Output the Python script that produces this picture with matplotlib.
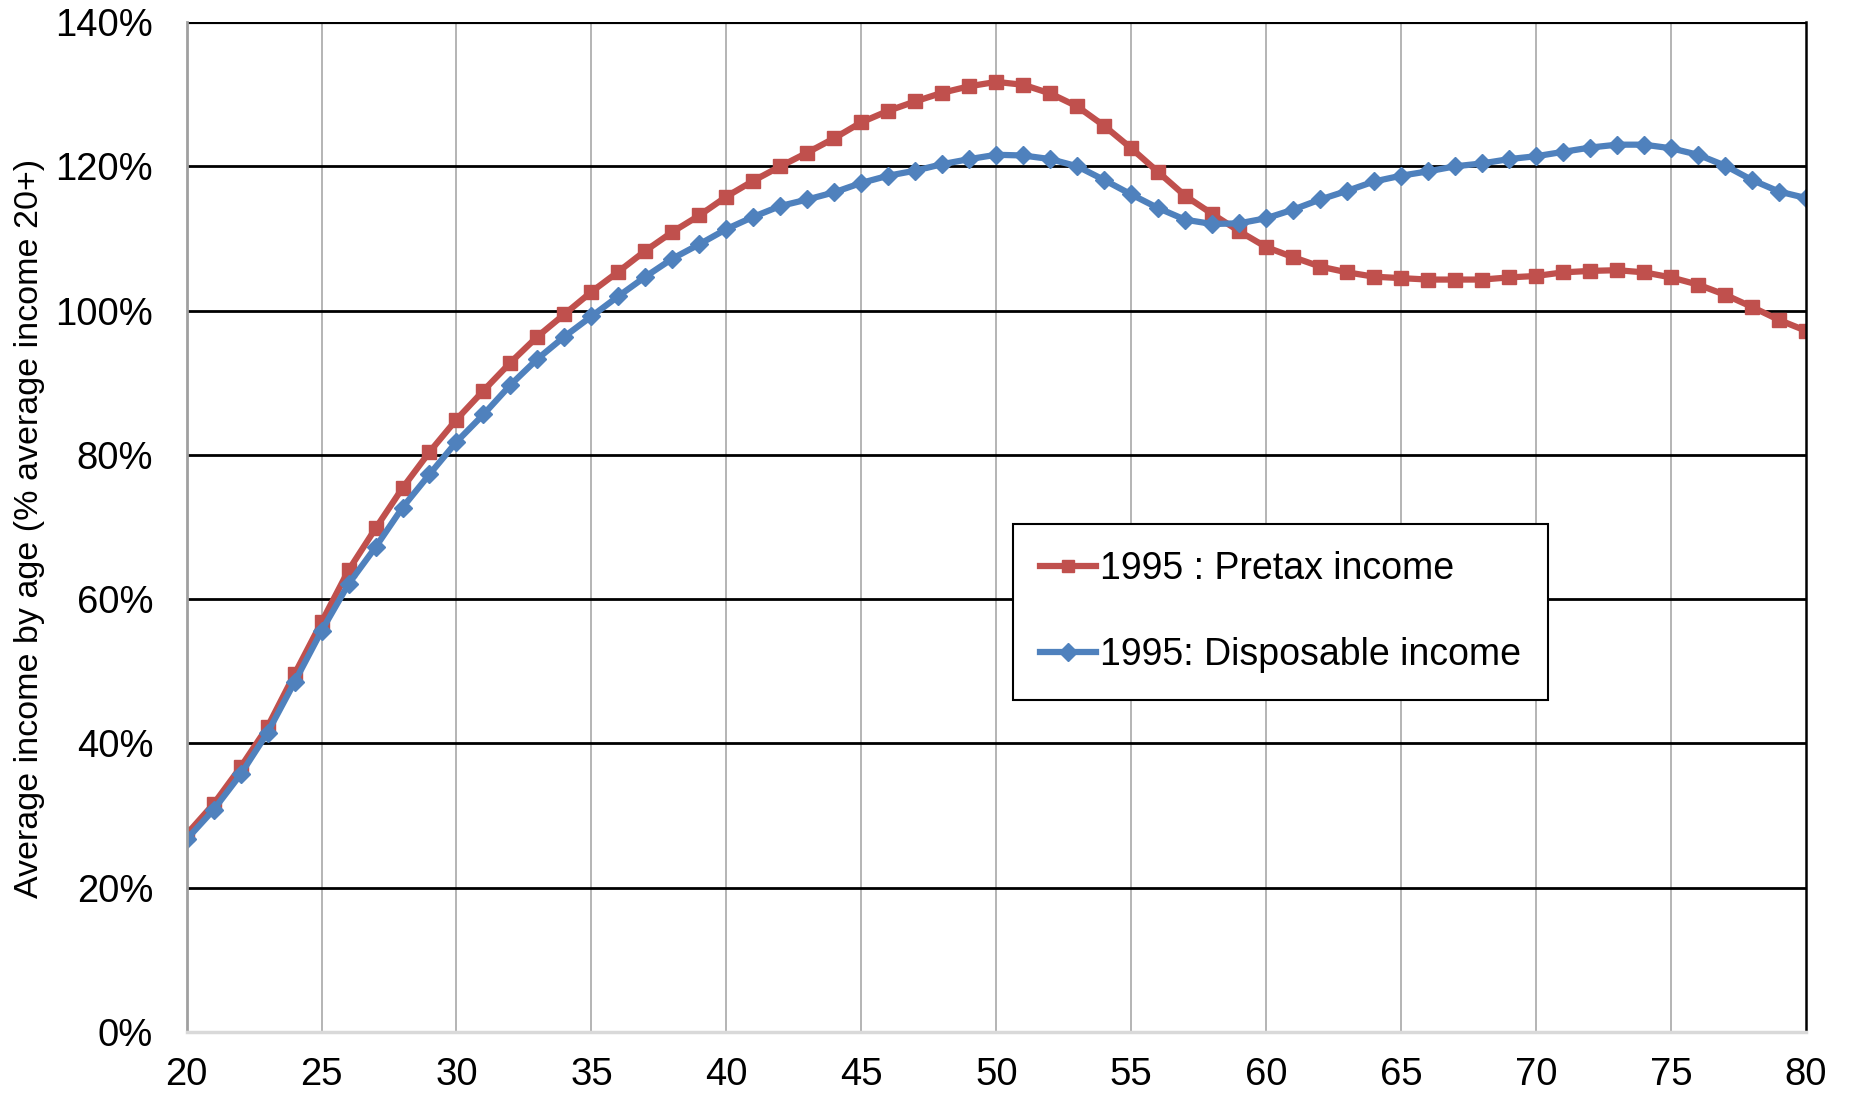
import numpy as np
import matplotlib
matplotlib.use("Agg")
import matplotlib.pyplot as plt
from matplotlib.ticker import FuncFormatter

plt.rcParams['font.family'] = ['Liberation Sans', 'DejaVu Sans']

# age 20..80, income by age as % of average income of adults 20+
ages = list(range(20, 81))
pretax = [27.4, 31.6, 36.7, 42.3, 49.6, 56.8, 64.0, 69.8, 75.4, 80.4,
          84.9, 88.9, 92.8, 96.4, 99.5, 102.6, 105.4, 108.3, 110.9, 113.2,
          115.8, 118.0, 120.0, 121.9, 123.9, 126.1, 127.7, 129.0, 130.2, 131.1,
          131.7, 131.3, 130.1, 128.3, 125.6, 122.5, 119.2, 115.9, 113.4, 111.0,
          108.8, 107.4, 106.1, 105.3, 104.7, 104.5, 104.3, 104.3, 104.3, 104.6,
          104.8, 105.3, 105.5, 105.6, 105.3, 104.6, 103.6, 102.2, 100.5, 98.7,
          97.2]
disposable = [26.7, 30.8, 35.7, 41.5, 48.5, 55.6, 62.1, 67.2, 72.7, 77.3,
              81.8, 85.6, 89.7, 93.3, 96.4, 99.2, 102.0, 104.7, 107.2, 109.2,
              111.3, 113.0, 114.5, 115.4, 116.4, 117.7, 118.7, 119.4, 120.3, 121.0,
              121.6, 121.5, 121.0, 120.0, 118.1, 116.1, 114.2, 112.6, 112.0, 112.1,
              112.8, 114.0, 115.4, 116.6, 117.9, 118.7, 119.3, 120.0, 120.4, 121.0,
              121.4, 122.0, 122.6, 123.0, 123.0, 122.5, 121.6, 120.1, 118.1, 116.5,
              115.6]
names = ["1995 : Pretax income", "1995: Disposable income"]
xticks = list(range(20, 81, 5))
yticks = list(range(0, 141, 20))

fig = plt.figure(figsize=(18.51, 10.96), dpi=100)
ax = fig.add_axes([0.1008, 0.0584, 0.8749, 0.9215])

ax.plot(ages, pretax, color="#C0504D", lw=4.5, marker="s", ms=10.5, label=names[0])
ax.plot(ages, disposable, color="#4F81BD", lw=4.5, marker="D", ms=9.5, label=names[1])

ax.set_xlim(20, 80)
ax.set_ylim(0, 140)
ax.set_xticks(xticks)
ax.set_yticks(yticks)
ax.yaxis.set_major_formatter(FuncFormatter(lambda v, p: "%d%%" % v))
ax.tick_params(length=0, labelsize=27.5)
ax.tick_params(axis="y", pad=24)
ax.tick_params(axis="x", pad=18)

# excel style grid: black horizontal, thin grey vertical
for y in yticks[1:]:
    ax.axhline(y, color="black", lw=2 if y < 140 else 3, zorder=1)
for x in xticks[1:-1]:
    ax.axvline(x, color="#A0A0A0", lw=1.1, zorder=0.5)

ax.spines["top"].set_visible(False)
ax.spines["right"].set_color("black")
ax.spines["right"].set_linewidth(1.8)
ax.spines["left"].set_color("#A0A0A0")
ax.spines["left"].set_linewidth(2)
ax.spines["bottom"].set_color("#D9D9D9")
ax.spines["bottom"].set_linewidth(2.5)

fig.text(30/1851, 0.518, "Average income by age (% average income 20+)",
         rotation=90, ha="center", va="center", fontsize=24.5)

leg = ax.legend(loc="upper left", bbox_to_anchor=(0.5103, 0.5028), fontsize=27,
                frameon=True, fancybox=False, edgecolor="black", framealpha=1,
                handlelength=1.5, handletextpad=0.1, borderpad=0.72, labelspacing=1.33,
                borderaxespad=0)
leg.get_frame().set_linewidth(1.5)
for h in leg.legend_handles:
    h.set_markersize(9)

fig.savefig("out.png", dpi=100)
